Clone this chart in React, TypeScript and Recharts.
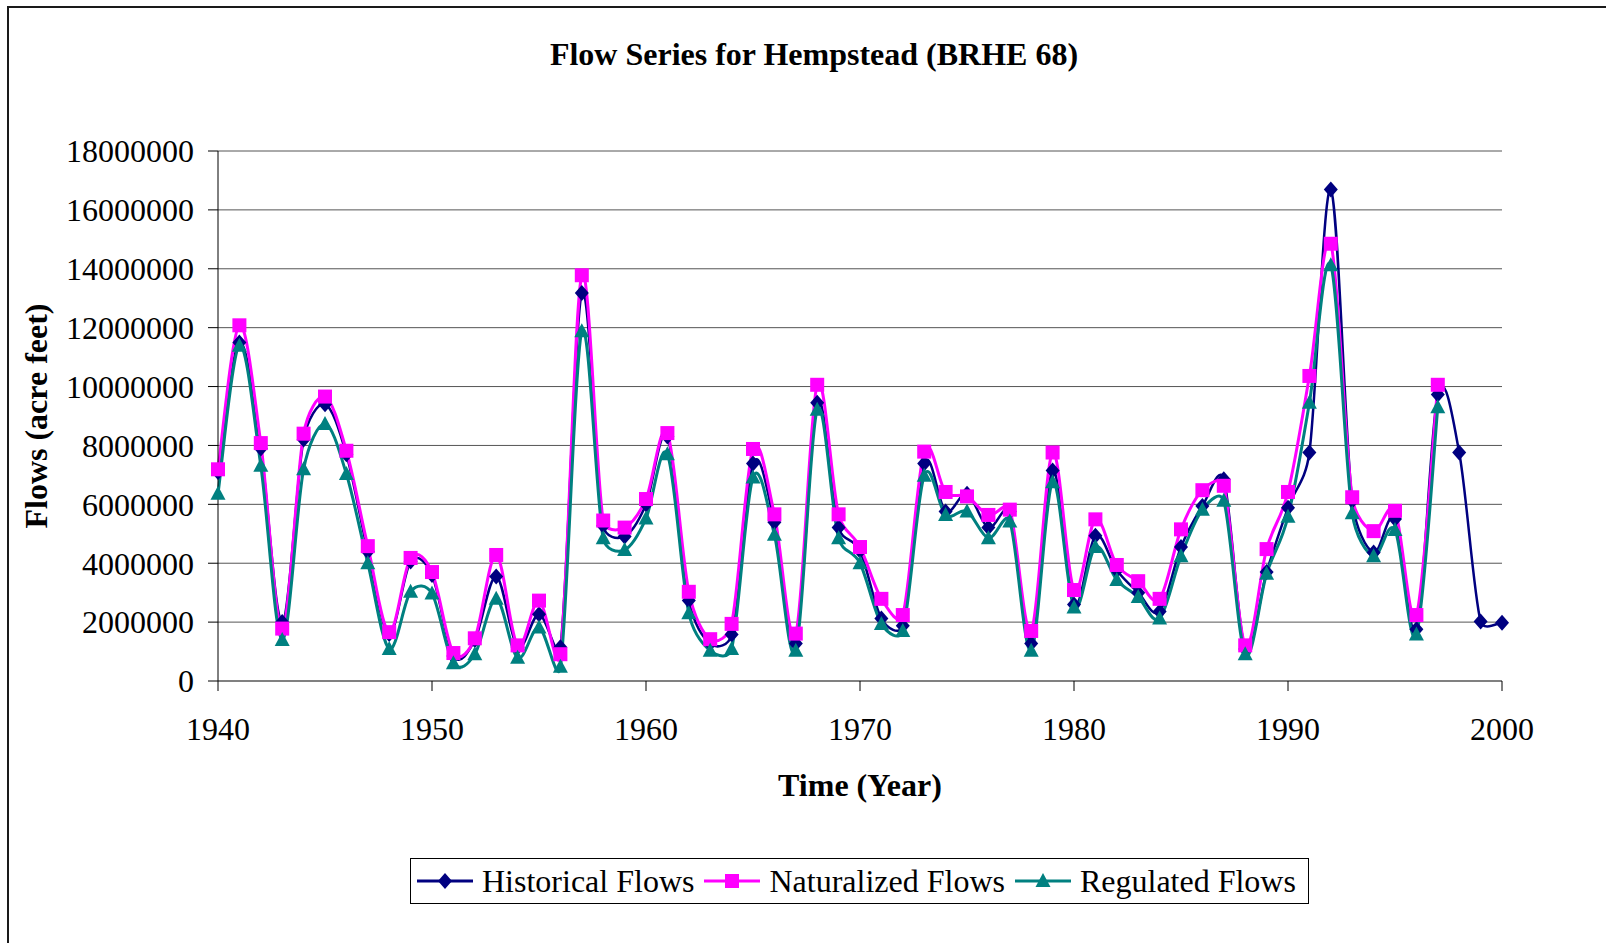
import React from 'react';
import { LineChart, Line, XAxis, YAxis, CartesianGrid } from 'recharts';

const FONT = '"Liberation Serif", "Times New Roman", serif';

const years = [
  1940, 1941, 1942, 1943, 1944, 1945, 1946, 1947, 1948, 1949,
  1950, 1951, 1952, 1953, 1954, 1955, 1956, 1957, 1958, 1959,
  1960, 1961, 1962, 1963, 1964, 1965, 1966, 1967, 1968, 1969,
  1970, 1971, 1972, 1973, 1974, 1975, 1976, 1977, 1978, 1979,
  1980, 1981, 1982, 1983, 1984, 1985, 1986, 1987, 1988, 1989,
  1990, 1991, 1992, 1993, 1994, 1995, 1996, 1997, 1998, 1999,
  2000,
];

const historicalFlows = [
  7100000, 11500000, 7900000, 2000000, 8200000, 9400000, 7700000, 4400000, 1600000, 4060000,
  3600000, 850000, 1390000, 3550000, 1150000, 2270000, 1150000, 13180000, 5270000, 4910000,
  6000000, 8300000, 2730000, 1270000, 1580000, 7390000, 5390000, 1270000, 9450000, 5210000,
  4420000, 2120000, 1880000, 7390000, 5760000, 6360000, 5210000, 5760000, 1270000, 7150000,
  2600000, 4930000, 3760000, 3000000, 2360000, 4550000, 5940000, 6850000, 1090000, 3700000,
  5880000, 7760000, 16690000, 6120000, 4360000, 5500000, 1760000, 9730000, 7760000, 2020000,
  1980000,
];

const naturalizedFlows = [
  7190000, 12080000, 8080000, 1780000, 8400000, 9660000, 7820000, 4580000, 1660000, 4180000,
  3700000, 950000, 1450000, 4280000, 1210000, 2730000, 910000, 13780000, 5450000, 5210000,
  6180000, 8420000, 3030000, 1420000, 1940000, 7880000, 5660000, 1610000, 10060000, 5660000,
  4550000, 2790000, 2240000, 7790000, 6420000, 6270000, 5640000, 5820000, 1700000, 7760000,
  3090000, 5490000, 3940000, 3390000, 2790000, 5150000, 6480000, 6630000, 1210000, 4480000,
  6420000, 10360000, 14850000, 6240000, 5090000, 5780000, 2240000, 10060000, null, null,
  null,
];

const regulatedFlows = [
  6360000, 11390000, 7310000, 1390000, 7190000, 8730000, 7030000, 4000000, 1090000, 3030000,
  2970000, 600000, 910000, 2790000, 790000, 1820000, 480000, 11880000, 4850000, 4450000,
  5520000, 7700000, 2300000, 1030000, 1090000, 6910000, 4970000, 1030000, 9210000, 4850000,
  4000000, 1940000, 1700000, 6970000, 5640000, 5760000, 4850000, 5420000, 1030000, 6750000,
  2500000, 4550000, 3430000, 2850000, 2120000, 4240000, 5820000, 6120000, 910000, 3640000,
  5580000, 9450000, 14120000, 5700000, 4240000, 5130000, 1580000, 9300000, null, null,
  null,
];

const yearTicks = [1940, 1950, 1960, 1970, 1980, 1990, 2000];
const flowTicks = [0, 2000000, 4000000, 6000000, 8000000, 10000000, 12000000, 14000000, 16000000, 18000000];

const data = years.map((year, i) => ({
  year,
  historical: historicalFlows[i],
  naturalized: naturalizedFlows[i],
  regulated: regulatedFlows[i],
}));

// Excel-like smoothed line: bezier through each point, handles capped
// to half the segment length so steep neighbours don't overshoot much
const capHandle = (dx: number, dy: number, maxLen: number) => {
  const len = Math.hypot(dx, dy);
  if (len <= maxLen || len === 0) return [dx, dy];
  return [(dx * maxLen) / len, (dy * maxLen) / len];
};

const smoothCurve: any = (context: any) => {
  let pts: number[][] = [];
  return {
    areaStart() {},
    areaEnd() {},
    lineStart() {
      pts = [];
    },
    point(x: number, y: number) {
      pts.push([+x, +y]);
    },
    lineEnd() {
      if (!pts.length) return;
      context.moveTo(pts[0][0], pts[0][1]);
      for (let i = 0; i < pts.length - 1; i++) {
        const p0 = pts[i - 1] || pts[i];
        const p1 = pts[i];
        const p2 = pts[i + 1];
        const p3 = pts[i + 2] || p2;
        const seg = Math.hypot(p2[0] - p1[0], p2[1] - p1[1]) * 0.5;
        const a = capHandle((p2[0] - p0[0]) / 6, (p2[1] - p0[1]) / 6, seg);
        const b = capHandle((p3[0] - p1[0]) / 6, (p3[1] - p1[1]) / 6, seg);
        context.bezierCurveTo(p1[0] + a[0], p1[1] + a[1], p2[0] - b[0], p2[1] - b[1], p2[0], p2[1]);
      }
    },
  };
};

const NAVY = '#000080';
const MAGENTA = '#FF00FF';
const TEAL = '#008080';

const Diamond = ({ cx, cy }: { cx: number; cy: number }) => (
  <path d={`M${cx},${cy - 8}L${cx + 7},${cy}L${cx},${cy + 8}L${cx - 7},${cy}Z`} fill={NAVY} />
);
const Square = ({ cx, cy }: { cx: number; cy: number }) => (
  <rect x={cx - 7} y={cy - 7} width={14} height={14} fill={MAGENTA} />
);
const Triangle = ({ cx, cy }: { cx: number; cy: number }) => (
  <path d={`M${cx},${cy - 8}L${cx + 7.5},${cy + 6}L${cx - 7.5},${cy + 6}Z`} fill={TEAL} />
);

const makeDot = (Shape: any, name: string) => (props: any) => {
  const { cx, cy, index, value } = props;
  if (cx == null || cy == null || value == null) return <g key={`${name}-${index}`} />;
  return (
    <g key={`${name}-${index}`}>
      <Shape cx={cx} cy={cy} />
    </g>
  );
};

const legendItems = [
  { label: 'Historical Flows', color: NAVY, Shape: Diamond },
  { label: 'Naturalized Flows', color: MAGENTA, Shape: Square },
  { label: 'Regulated Flows', color: TEAL, Shape: Triangle },
];

const tickStyle = { fontSize: 32, fill: '#000', fontFamily: FONT };

const App: React.FC = () => {
  return (
    <div
      style={{
        position: 'fixed',
        left: 0,
        top: 0,
        width: 1606,
        height: 943,
        overflow: 'hidden',
        background: '#fff',
        fontFamily: FONT,
      }}
    >
      <div
        style={{
          position: 'absolute',
          left: 7,
          top: 6,
          width: 1700,
          height: 1000,
          border: '2px solid #1a1a1a',
        }}
      />
      <div
        style={{
          position: 'absolute',
          left: 0,
          width: 1628,
          top: 36,
          textAlign: 'center',
          fontSize: 32,
          fontWeight: 'bold',
          lineHeight: '36px',
        }}
      >
        Flow Series for Hempstead (BRHE 68)
      </div>
      <div style={{ position: 'absolute', left: 0, top: 0 }}>
        <LineChart
          width={1606}
          height={943}
          data={data}
          margin={{ top: 151, right: 104, bottom: 202, left: 18 }}
        >
          <CartesianGrid vertical={false} stroke="#555" />
          <XAxis
            dataKey="year"
            type="number"
            domain={[1940, 2000]}
            ticks={yearTicks}
            interval={0}
            tick={tickStyle}
            tickSize={10}
            tickMargin={26}
            height={60}
            axisLine={{ stroke: '#808080', strokeWidth: 2 }}
            tickLine={{ stroke: '#000' }}
          />
          <YAxis
            domain={[0, 18000000]}
            ticks={flowTicks}
            interval={0}
            width={200}
            tick={tickStyle}
            tickSize={10}
            tickMargin={14}
            axisLine={{ stroke: '#000' }}
            tickLine={{ stroke: '#000' }}
          />
          <Line
            dataKey="historical"
            type={smoothCurve}
            stroke={NAVY}
            strokeWidth={2.5}
            dot={makeDot(Diamond, 'h')}
            activeDot={false}
            isAnimationActive={false}
          />
          <Line
            dataKey="naturalized"
            type={smoothCurve}
            stroke={MAGENTA}
            strokeWidth={3}
            dot={makeDot(Square, 'n')}
            activeDot={false}
            isAnimationActive={false}
          />
          <Line
            dataKey="regulated"
            type={smoothCurve}
            stroke={TEAL}
            strokeWidth={3}
            dot={makeDot(Triangle, 'r')}
            activeDot={false}
            isAnimationActive={false}
          />
        </LineChart>
      </div>
      <div
        style={{
          position: 'absolute',
          left: 0,
          width: 1720,
          top: 767,
          textAlign: 'center',
          fontSize: 32,
          fontWeight: 'bold',
          lineHeight: '36px',
        }}
      >
        Time (Year)
      </div>
      <div
        style={{
          position: 'absolute',
          left: 36 - 150,
          top: 416 - 18,
          width: 300,
          textAlign: 'center',
          fontSize: 32,
          fontWeight: 'bold',
          lineHeight: '36px',
          transform: 'rotate(-90deg)',
        }}
      >
        Flows (acre feet)
      </div>
      <div
        style={{
          position: 'absolute',
          left: 410,
          top: 858,
          width: 891,
          height: 44,
          border: '1px solid #000',
          display: 'flex',
          alignItems: 'center',
          paddingLeft: 6,
          boxSizing: 'content-box',
        }}
      >
        {legendItems.map((item) => (
          <div key={item.label} style={{ display: 'flex', alignItems: 'center', marginRight: 10 }}>
            <svg width={56} height={20}>
              <line x1={0} y1={10} x2={56} y2={10} stroke={item.color} strokeWidth={3} />
              <item.Shape cx={28} cy={10} />
            </svg>
            <span style={{ fontSize: 32, marginLeft: 9, lineHeight: '36px', whiteSpace: 'nowrap' }}>
              {item.label}
            </span>
          </div>
        ))}
      </div>
    </div>
  );
};

export default App;
